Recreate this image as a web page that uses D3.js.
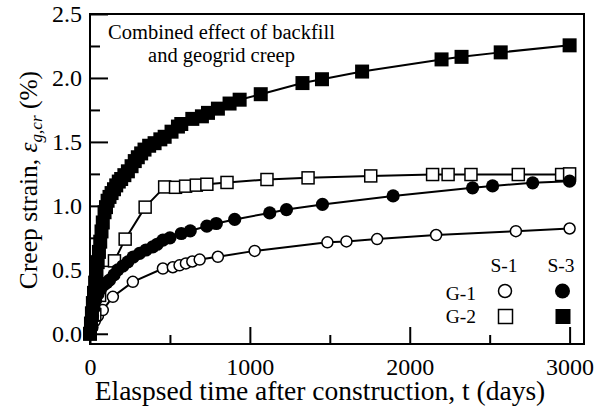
<!DOCTYPE html>
<html>
<head>
<meta charset="utf-8">
<script src="https://cdn.jsdelivr.net/npm/d3@7"></script>
<style>
  body { margin: 0; background: #fff; }
  svg { display: block; }
  text { font-family: "Liberation Serif", "Times New Roman", serif; fill: #000; }
</style>
</head>
<body>
<div id="chart"></div>
<script>
// S-1 / G-1 (open circles)
var s1g1T = [0, 15, 30, 50, 80, 143, 268, 456, 518, 560, 600, 640, 686, 800, 1030, 1485, 1604, 1796, 2165, 2664, 3000];
var s1g1V = [0, 0.05, 0.10, 0.14, 0.185, 0.289, 0.406, 0.51, 0.52, 0.535, 0.55, 0.565, 0.58, 0.602, 0.648, 0.715, 0.722, 0.74, 0.772, 0.802, 0.823];

// S-1 / G-2 (open squares)
var s1g2T = [0, 30, 60, 90, 115, 153, 220, 345, 467, 535, 598, 665, 731, 857, 1107, 1364, 1756, 2143, 2240, 2383, 2679, 2950, 3000];
var s1g2V = [0, 0.15, 0.30, 0.42, 0.48, 0.57, 0.74, 0.99, 1.148, 1.145, 1.154, 1.162, 1.169, 1.183, 1.206, 1.219, 1.234, 1.245, 1.245, 1.245, 1.245, 1.245, 1.25];

// S-3 / G-1 (filled circles)
var s3g1T = [0, 8, 16, 25, 35, 50, 65, 85, 105, 122, 150, 174, 205, 237, 270, 310, 350, 393, 420, 456, 500, 571, 627, 731, 790, 905, 1124, 1229, 1454, 1896, 2393, 2518, 2769, 3000];
var s3g1V = [0, 0.07, 0.14, 0.20, 0.26, 0.31, 0.35, 0.38, 0.40, 0.42, 0.46, 0.50, 0.53, 0.5625, 0.60, 0.628, 0.655, 0.68, 0.70, 0.732, 0.75, 0.784, 0.805, 0.841, 0.862, 0.894, 0.945, 0.971, 1.011, 1.078, 1.141, 1.156, 1.18, 1.193];

// S-3 / G-2 (filled squares)
var s3g2T = [0, 6, 12, 18, 25, 32, 40, 48, 56, 64, 72, 80, 91, 100, 110, 122, 135, 150, 164, 180, 195, 215, 237, 260, 280, 299, 320, 341, 370, 404, 440, 467, 510, 550, 571, 640, 700, 738, 800, 873, 936, 1068, 1329, 1451, 1702, 2199, 2324, 2569, 3000];
var s3g2V = [0, 0.08, 0.16, 0.24, 0.32, 0.40, 0.48, 0.56, 0.64, 0.72, 0.80, 0.87, 0.95, 0.99, 1.04, 1.07, 1.10, 1.13, 1.16, 1.19, 1.21, 1.24, 1.27, 1.31, 1.35, 1.38, 1.41, 1.44, 1.47, 1.49, 1.52, 1.54, 1.58, 1.62, 1.64, 1.68, 1.70, 1.727, 1.76, 1.80, 1.83, 1.873, 1.96, 1.99, 2.05, 2.145, 2.165, 2.20, 2.255];

var xMajor = [0, 1000, 2000, 3000],
    xMinor = [500, 1500, 2500],
    yMajor = [0, 0.5, 1.0, 1.5, 2.0, 2.5],
    yMinor = [0.25, 0.75, 1.25, 1.75, 2.25];

var margins = { top: 14, right: 22, bottom: 66, left: 90 },
    width = 606 - margins.left - margins.right,
    height = 410 - margins.top - margins.bottom;

var svg = d3.select("#chart")
    .append("svg")
    .attr("width", 606)
    .attr("height", 410);

var plot = svg.append("g")
    .attr("transform", "translate(" + margins.left + "," + margins.top + ")");

var xScale = d3.scaleLinear().domain([0, 3090]).range([0, width]);
var yScale = d3.scaleLinear().domain([-0.08, 2.5]).range([height, 0]);

// Axes with inward ticks
plot.append("g")
    .attr("class", "axis")
    .attr("transform", "translate(0," + height + ")")
    .call(d3.axisBottom(xScale)
        .tickValues(xMajor)
        .tickSize(-17)
        .tickPadding(14)
        .tickFormat(d3.format("d")));

plot.append("g")
    .attr("class", "axis")
    .attr("transform", "translate(0," + height + ")")
    .call(d3.axisBottom(xScale)
        .tickValues(xMinor)
        .tickSize(-9)
        .tickFormat(""));

plot.append("g")
    .attr("class", "axis")
    .call(d3.axisLeft(yScale)
        .tickValues(yMajor)
        .tickSize(-18)
        .tickPadding(8)
        .tickFormat(d3.format(".1f")));

plot.append("g")
    .attr("class", "axis")
    .call(d3.axisLeft(yScale)
        .tickValues(yMinor)
        .tickSize(-10)
        .tickFormat(""));

plot.selectAll(".axis .domain").remove();
plot.selectAll(".axis line").attr("stroke", "#000").attr("stroke-width", 2);
plot.selectAll(".axis text")
    .style("font-family", '"Liberation Serif", serif')
    .style("font-size", "24px")
    .attr("fill", "#000");

// Frame
plot.append("rect")
    .attr("width", width)
    .attr("height", height)
    .attr("fill", "none")
    .attr("stroke", "#000")
    .attr("stroke-width", 2);

function toPoints(ts, vs) {
    return ts.map(function (t, i) { return { t: t, v: vs[i] }; });
}

var series = [
    { data: toPoints(s1g1T, s1g1V), shape: "circle", filled: false },
    { data: toPoints(s1g2T, s1g2V), shape: "square", filled: false },
    { data: toPoints(s3g1T, s3g1V), shape: "circle", filled: true },
    { data: toPoints(s3g2T, s3g2V), shape: "square", filled: true }
];

var line = d3.line()
    .x(function (d) { return xScale(d.t); })
    .y(function (d) { return yScale(d.v); });

series.forEach(function (s) {
    plot.append("path")
        .datum(s.data)
        .attr("d", line)
        .attr("fill", "none")
        .attr("stroke", "#000")
        .attr("stroke-width", 2);
});

// Markers: open ones drawn with a stroke, filled ones slightly larger and solid
function drawMarkers(g, s) {
    if (s.shape === "circle") {
        g.selectAll("circle.m")
            .data(s.data)
            .enter()
            .append("circle")
            .attr("class", "m")
            .attr("cx", function (d) { return xScale(d.t); })
            .attr("cy", function (d) { return yScale(d.v); })
            .attr("r", s.filled ? 6.6 : 5.5)
            .attr("fill", s.filled ? "#000" : "#fff")
            .attr("stroke", "#000")
            .attr("stroke-width", s.filled ? 0 : 1.5);
    } else {
        var half = s.filled ? 7 : 6;
        g.selectAll("rect.m")
            .data(s.data)
            .enter()
            .append("rect")
            .attr("class", "m")
            .attr("x", function (d) { return xScale(d.t) - half; })
            .attr("y", function (d) { return yScale(d.v) - half; })
            .attr("width", half * 2)
            .attr("height", half * 2)
            .attr("fill", s.filled ? "#000" : "#fff")
            .attr("stroke", "#000")
            .attr("stroke-width", s.filled ? 0 : 1.5);
    }
}

series.forEach(function (s) {
    drawMarkers(plot.append("g"), s);
});

// Annotation
var note = plot.append("text")
    .attr("text-anchor", "middle")
    .style("font-size", "20.5px");
note.append("tspan").attr("x", 131.5).attr("y", 25).text("Combined effect of backfill");
note.append("tspan").attr("x", 131.5).attr("y", 48).text("and geogrid creep");

// Legend
var legend = svg.append("g").style("font-size", "19.5px");
legend.append("text").attr("x", 504).attr("y", 272).attr("text-anchor", "middle").text("S-1");
legend.append("text").attr("x", 561).attr("y", 272).attr("text-anchor", "middle").text("S-3");
legend.append("text").attr("x", 476).attr("y", 300).attr("text-anchor", "end").text("G-1");
legend.append("text").attr("x", 476).attr("y", 323).attr("text-anchor", "end").text("G-2");
legend.append("circle").attr("cx", 505).attr("cy", 291).attr("r", 6.5)
    .attr("fill", "#fff").attr("stroke", "#000").attr("stroke-width", 1.5);
legend.append("circle").attr("cx", 562.5).attr("cy", 291).attr("r", 7.5)
    .attr("fill", "#000");
legend.append("rect").attr("x", 498.5).attr("y", 309.5).attr("width", 14).attr("height", 14)
    .attr("fill", "#fff").attr("stroke", "#000").attr("stroke-width", 1.5);
legend.append("rect").attr("x", 555.5).attr("y", 309).attr("width", 15).attr("height", 15)
    .attr("fill", "#000");

// Axis titles
svg.append("text")
    .attr("x", 320)
    .attr("y", 400)
    .attr("text-anchor", "middle")
    .style("font-size", "27.5px")
    .text("Elaspsed time after construction, t (days)");

var yTitle = svg.append("text")
    .attr("transform", "translate(37,180) rotate(-90)")
    .attr("text-anchor", "middle")
    .style("font-size", "25.5px");
yTitle.append("tspan").text("Creep strain, ");
yTitle.append("tspan").style("font-style", "italic").text("ε");
yTitle.append("tspan").attr("dy", 5).style("font-size", "17px").style("font-style", "italic").text("g,cr");
yTitle.append("tspan").attr("dy", -5).text(" (%)");
</script>
</body>
</html>
